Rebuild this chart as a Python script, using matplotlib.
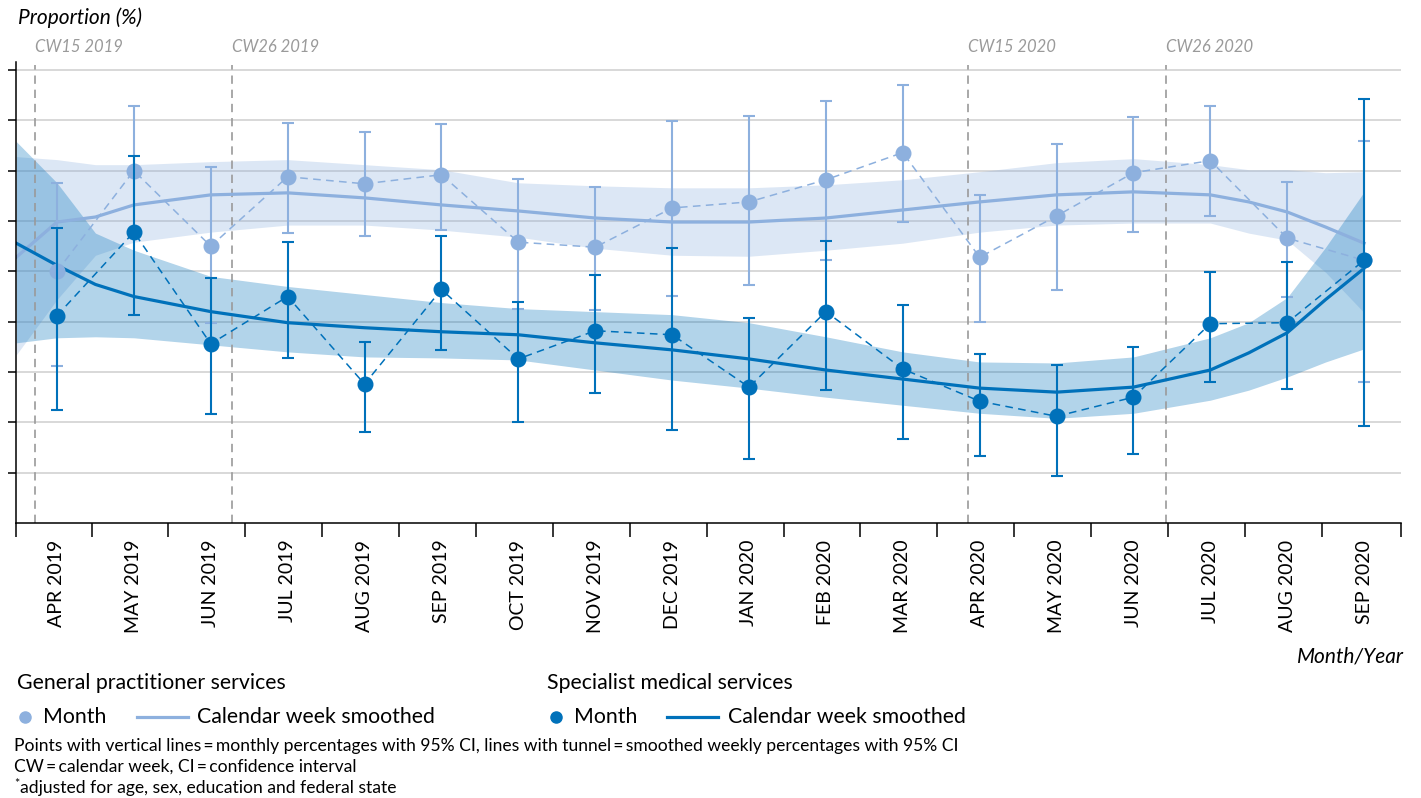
import matplotlib
matplotlib.use("Agg")
import matplotlib.pyplot as plt
from matplotlib.lines import Line2D
import numpy as np

plt.rcParams['font.family'] = ['Lato', 'DejaVu Sans']

# ---------------- data ----------------
months = ['APR 2019', 'MAY 2019', 'JUN 2019', 'JUL 2019', 'AUG 2019', 'SEP 2019',
          'OCT 2019', 'NOV 2019', 'DEC 2019', 'JAN 2020', 'FEB 2020', 'MAR 2020',
          'APR 2020', 'MAY 2020', 'JUN 2020', 'JUL 2020', 'AUG 2020', 'SEP 2020']

# General practitioner services, monthly percentages with 95% CI
gp_month = [25.0, 35.0, 27.5, 34.4, 33.7, 34.6, 27.9, 27.4, 31.3, 31.9, 34.1, 36.8,
            26.4, 30.5, 34.8, 36.0, 28.3, 26.1]
gp_lo = [15.6, 28.6, 19.9, 28.8, 28.5, 29.1, 21.3, 21.2, 22.6, 23.6, 26.1, 29.9,
         20.0, 23.1, 28.9, 30.5, 22.5, 14.0]
gp_hi = [33.8, 41.4, 35.4, 39.7, 38.8, 39.6, 34.2, 33.4, 39.9, 40.4, 41.9, 43.5,
         32.6, 37.7, 40.3, 41.4, 33.9, 38.0]

# Specialist medical services, monthly percentages with 95% CI
sp_month = [20.6, 28.9, 17.8, 22.5, 13.8, 23.2, 16.3, 19.1, 18.7, 13.5, 21.0, 15.3,
            12.1, 10.6, 12.5, 19.8, 19.9, 26.1]
sp_lo = [11.2, 20.7, 10.8, 16.4, 9.0, 17.2, 10.0, 12.9, 9.2, 6.4, 13.2, 8.3,
         6.7, 4.7, 6.9, 14.0, 13.3, 9.6]
sp_hi = [29.3, 36.5, 24.3, 27.9, 18.0, 28.5, 22.0, 24.6, 27.3, 20.4, 28.0, 21.7,
         16.8, 15.7, 17.5, 24.9, 25.9, 42.1]

# Smoothed weekly percentages (position in months from APR 2019) with 95% CI tunnel
smooth_x = [-0.53, 0, 0.5, 1, 2, 3, 4, 5, 6, 7, 8, 9, 10, 11, 12, 13, 14, 15,
            15.5, 16, 16.5, 17]
gp_smooth = [26.4, 29.9, 30.4, 31.6, 32.6, 32.8, 32.3, 31.6, 31.0, 30.3, 29.9, 29.9,
             30.3, 31.1, 31.9, 32.6, 32.9, 32.6, 31.9, 30.9, 29.4, 27.8]
gp_band_hi = [36.4, 36.1, 35.6, 35.6, 35.9, 36.1, 35.6, 35.1, 33.8, 33.5, 33.3, 33.3,
              33.6, 34.1, 34.9, 35.8, 36.2, 35.6, 35.1, 35.1, 34.8, 34.9]
gp_band_lo = [16.7, 22.2, 26.6, 27.9, 28.9, 29.6, 29.6, 29.1, 28.4, 27.3, 26.6, 26.5,
              27.1, 27.8, 28.9, 29.6, 29.8, 29.8, 28.8, 28.1, 24.9, 20.9]
sp_smooth = [27.8, 25.6, 23.7, 22.5, 21.0, 19.9, 19.4, 19.0, 18.7, 17.9, 17.2, 16.3,
             15.2, 14.3, 13.4, 13.0, 13.5, 15.2, 16.9, 18.9, 22.2, 25.3]
sp_band_hi = [37.9, 33.8, 28.8, 27.1, 24.5, 23.5, 22.7, 21.9, 21.3, 21.0, 20.7, 19.9,
              18.5, 17.0, 16.0, 15.9, 16.5, 18.4, 19.9, 22.4, 27.4, 32.9]
sp_band_lo = [17.9, 18.4, 18.5, 18.4, 17.7, 17.0, 16.5, 16.4, 16.2, 15.2, 14.2, 13.4,
              12.5, 11.7, 10.9, 10.4, 10.9, 12.2, 13.2, 14.5, 16.0, 17.3]

cw_x = [-0.29, 2.28, 11.85, 14.42]
cw_labels = ['CW15 2019', 'CW26 2019', 'CW15 2020', 'CW26 2020']

yticks = [5, 10, 15, 20, 25, 30, 35, 40, 45]

# ---------------- style ----------------
C_GP = '#8DB0DE'
C_SP = '#0071BA'
GRID = '#d6d6d6'

W, H = 1421, 798
fig = plt.figure(figsize=(W / 100, H / 100), dpi=100)


def fx(x):
    return x / W


def fy(y):
    return 1 - y / H


ax = fig.add_axes([fx(16), fy(523), fx(1401) - fx(16), (523 - 62) / H])
xmin, xmax = -0.533, 17.48
ax.set_xlim(xmin, xmax)
ax.set_ylim(0, 45.8)

x = np.arange(len(months))

# grid
for yt in yticks:
    ax.axhline(yt, color=GRID, lw=1.3, zorder=0)

# bands
ax.fill_between(smooth_x, gp_band_lo, gp_band_hi, color=C_GP, alpha=0.3, lw=0, zorder=1)
ax.fill_between(smooth_x, sp_band_lo, sp_band_hi, color=C_SP, alpha=0.3, lw=0, zorder=1.1)

# calendar week lines
for cx, cl in zip(cw_x, cw_labels):
    ax.axvline(cx, ymin=0, ymax=45.5 / 45.8, color='#9a9a9a', lw=1.2,
               ls=(0, (5, 3.5)), zorder=1.5)
    ax.text(cx, 47.3, cl, color='#9a9a9a', fontsize=12, style='italic',
            ha='left', va='center', clip_on=False)

# smoothed lines
ax.plot(smooth_x, gp_smooth, color=C_GP, lw=2.3, zorder=2, solid_joinstyle='round')
ax.plot(smooth_x, sp_smooth, color=C_SP, lw=2.3, zorder=2.1, solid_joinstyle='round')

# monthly points
gp_m = np.array(gp_month)
sp_m = np.array(sp_month)
ax.plot(x, gp_m, color=C_GP, lw=1.1, ls=(0, (5, 3.5)), zorder=3)
ax.errorbar(x, gp_m, yerr=[gp_m - np.array(gp_lo), np.array(gp_hi) - gp_m],
            fmt='o', color=C_GP, ms=10.5, capsize=4.5, elinewidth=1.5,
            capthick=1.5, zorder=3.1)
ax.plot(x, sp_m, color=C_SP, lw=1.1, ls=(0, (5, 3.5)), zorder=4)
ax.errorbar(x, sp_m, yerr=[sp_m - np.array(sp_lo), np.array(sp_hi) - sp_m],
            fmt='o', color=C_SP, ms=10.5, capsize=4.5, elinewidth=1.5,
            capthick=1.5, zorder=4.1)

# axes styling
for s in ['top', 'right']:
    ax.spines[s].set_visible(False)
for s in ['left', 'bottom']:
    ax.spines[s].set_linewidth(1.1)
    ax.spines[s].set_color('black')
    ax.spines[s].set_zorder(5)

ax.set_yticks(yticks)
ax.set_yticklabels([])
ax.tick_params(axis='y', direction='out', length=6, width=1.1, color='black')

ax.set_xticks(x)
ax.set_xticklabels(months, rotation=90, fontsize=14)
ax.tick_params(axis='x', which='major', length=0, pad=12)
bounds = [xmin] + [k + 0.45 for k in range(17)] + [xmax - 1e-6]
ax.set_xticks(bounds, minor=True)
ax.tick_params(axis='x', which='minor', direction='out', length=10, width=1.1,
               color='black')

# titles
fig.text(fx(18), fy(18), 'Proportion (%)', fontsize=15, style='italic',
         ha='left', va='center')
fig.text(fx(1404), fy(657), 'Month/Year', fontsize=15, style='italic',
         ha='right', va='center')

# legend (manual)
fig.text(fx(17), fy(683), 'General practitioner services', fontsize=15.3,
         ha='left', va='center')
fig.text(fx(547), fy(683), 'Specialist medical services', fontsize=15.3,
         ha='left', va='center')

ly = fy(717)
fig.add_artist(Line2D([fx(25)], [ly], marker='o', ms=8, color=C_GP, lw=0))
fig.text(fx(43), ly, 'Month', fontsize=15.3, ha='left', va='center')
fig.add_artist(Line2D([fx(137), fx(188)], [ly, ly], color=C_GP, lw=2.3))
fig.text(fx(197), ly, 'Calendar week smoothed', fontsize=15.3, ha='left', va='center')

fig.add_artist(Line2D([fx(556)], [ly], marker='o', ms=8, color=C_SP, lw=0))
fig.text(fx(574), ly, 'Month', fontsize=15.3, ha='left', va='center')
fig.add_artist(Line2D([fx(667), fx(718)], [ly, ly], color=C_SP, lw=2.3))
fig.text(fx(728), ly, 'Calendar week smoothed', fontsize=15.3, ha='left', va='center')

# footnotes
fig.text(fx(14), fy(746), 'Points with vertical lines\u2009=\u2009monthly percentages with 95% CI, '
         'lines with tunnel\u2009=\u2009smoothed weekly percentages with 95% CI',
         fontsize=12.6, ha='left', va='center')
fig.text(fx(14), fy(767), 'CW\u2009=\u2009calendar week, CI\u2009=\u2009confidence interval',
         fontsize=12.6, ha='left', va='center')
fig.text(fx(14), fy(784), '*', fontsize=9, ha='left', va='center')
fig.text(fx(20), fy(788), 'adjusted for age, sex, education and federal state',
         fontsize=12.6, ha='left', va='center')

fig.savefig('out.png', dpi=100)
